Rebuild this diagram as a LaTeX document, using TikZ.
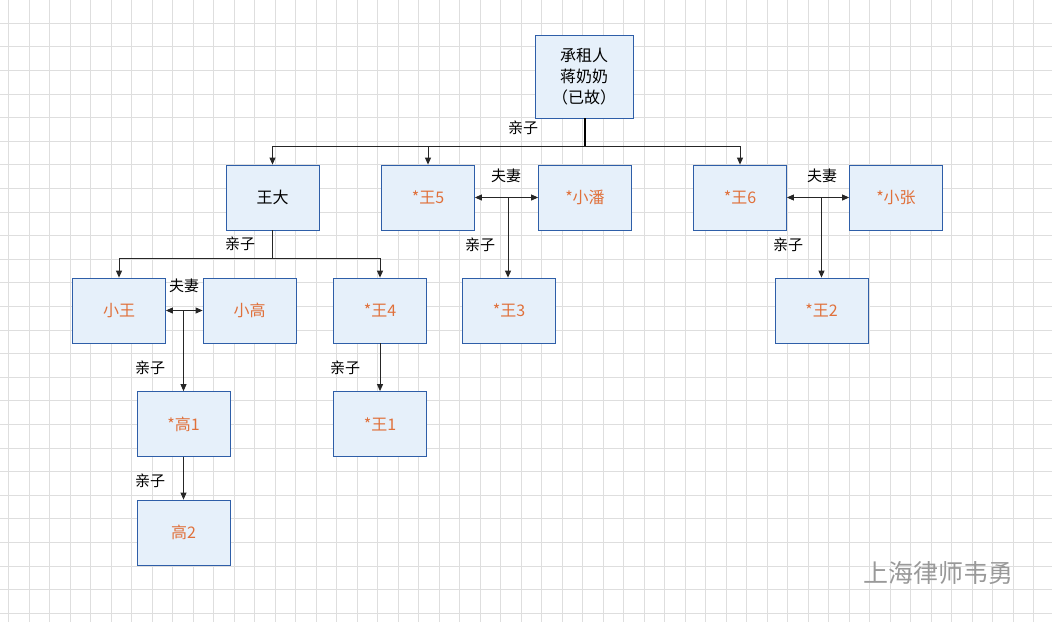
\documentclass[tikz,border=0pt]{standalone}
\usepackage{fontspec}
\setmainfont{Noto Sans CJK SC}
\usetikzlibrary{arrows.meta}
\definecolor{bx}{HTML}{E6F0FA}
\definecolor{bd}{HTML}{2E5EA8}
\definecolor{og}{HTML}{E0703A}
\begin{document}
\begin{tikzpicture}[x=1pt,y=-1pt,
  box/.style={draw=bd,fill=bx,line width=0.8pt,minimum width=93pt,minimum height=65pt,inner sep=0pt,font=\fontsize{16}{21}\selectfont},
  hl/.style={text=og},
  lab/.style={font=\fontsize{15}{18}\selectfont},
  ln/.style={line width=0.9pt,draw=black!85},
  ar/.style={ln,-{Triangle[length=7pt,width=6pt]}},
  dar/.style={ln,{Triangle[length=7pt,width=6pt]}-{Triangle[length=7pt,width=6pt]}}]
\useasboundingbox (0,0) rectangle (1052,622);
\fill[white] (0,0) rectangle (1052,622);
\foreach \i in {0,...,51} \draw[black!13,line width=0.6pt] ({8.5+20.5*\i},0) -- ({8.5+20.5*\i},622);
\foreach \j in {0,...,26} \draw[black!13,line width=0.6pt] (0,{-0.5+23.6*\j}) -- (1052,{-0.5+23.6*\j});
\node[box,minimum width=98pt,minimum height=83pt,align=center] (r) at (584,76.5) {承租人\\蒋奶奶\\（已故）};
\node[box] (wd) at (272.5,197.5) {王大};
\node[box,hl] (w5) at (428,197.5) {*王5};
\node[box,hl] (xp) at (585,197.5) {*小潘};
\node[box,hl] (w6) at (740,197.5) {*王6};
\node[box,hl] (xz) at (896,197.5) {*小张};
\node[box,hl] (xw) at (119,310.5) {小王};
\node[box,hl] (xg) at (249.5,310.5) {小高};
\node[box,hl] (w4) at (380,310.5) {*王4};
\node[box,hl] (w3) at (509,310.5) {*王3};
\node[box,hl] (w2) at (821.5,310.5) {*王2};
\node[box,hl] (g1) at (183.5,424) {*高1};
\node[box,hl] (w1) at (380,424) {*王1};
\node[box,hl] (g2) at (183.5,532.5) {高2};
\coordinate (j0) at (585,146);
\draw[line width=2.5pt] (r.south -| j0) -- (j0);
\draw[ar] (j0) -| (wd.north);
\draw[ar] (j0) -| (w5.north);
\draw[ar] (j0) -| (w6.north);
\node[lab] at (523,128) {亲子};
\coordinate (j1) at (272.5,258);
\draw[ln] (wd.south) -- (j1);
\draw[ar] (j1) -| (xw.north);
\draw[ar] (j1) -| (w4.north);
\node[lab] at (240,244) {亲子};
\draw[dar] (w5.east) -- (xp.west);
\coordinate (m1) at (508,197.5);
\draw[ar] (m1) -- (m1 |- w3.north);
\node[lab] at (506,176) {夫妻};
\node[lab] at (480,245) {亲子};
\draw[dar] (w6.east) -- (xz.west);
\coordinate (m2) at (821.5,197.5);
\draw[ar] (m2) -- (w2.north);
\node[lab] at (822,176) {夫妻};
\node[lab] at (788,245) {亲子};
\draw[dar] (xw.east) -- (xg.west);
\coordinate (m3) at (183.5,310.5);
\draw[ar] (m3) -- (g1.north);
\node[lab] at (184,286) {夫妻};
\node[lab] at (150,368) {亲子};
\draw[ar] (w4.south) -- (w1.north);
\node[lab] at (345,368) {亲子};
\draw[ar] (g1.south) -- (g2.north);
\node[lab] at (150,481) {亲子};
\node[text=black!40,font=\fontsize{25}{28}\selectfont] (wm) at (938,573) {上海律师韦勇};
\end{tikzpicture}
\end{document}
